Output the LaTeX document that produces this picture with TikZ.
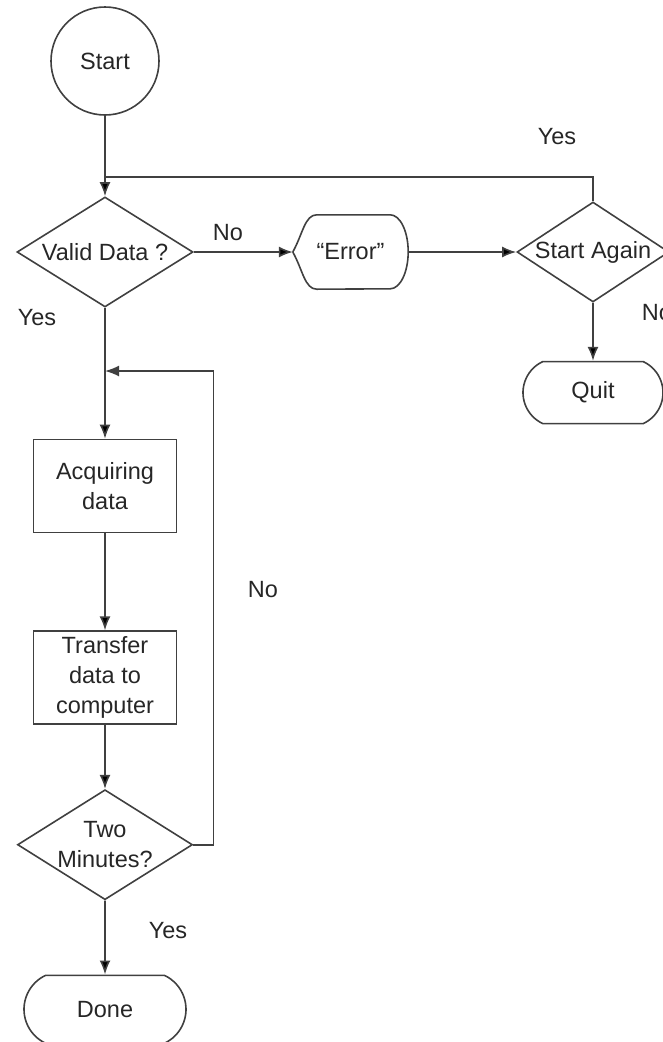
\documentclass[tikz,border=0pt]{standalone}
\usepackage{fontspec}
\setmainfont{Liberation Sans}
\usetikzlibrary{positioning,arrows.meta}
\usetikzlibrary{shapes.geometric,shapes.misc}
\tikzset{
    x=1pt, y=-1pt, % pixel units, y runs downwards
    >={Latex[length=14pt,width=11pt]}, % filled arrow heads
    every node/.style={font=\fontsize{23.5}{30}\selectfont, text=black!85},
    line/.style={draw=black!75, line width=1.6pt},
    terminal/.style={line, circle, minimum size=108pt, inner sep=0pt},
    decision/.style={line, diamond, aspect=1.6, inner sep=-6pt, align=center},
    process/.style={line, rectangle, minimum width=143pt, minimum height=93pt, inner sep=2pt, align=center},
    ending/.style={line, rounded rectangle, rounded rectangle arc length=130, inner sep=0pt},
}

\begin{document}
\begin{tikzpicture}
  \useasboundingbox (0,0) rectangle (663,1042);

  % main column
  \node[terminal] (start) at (105,61) {Start};
  \node[decision, minimum width=176pt, minimum height=110pt] (valid) at (105,252) {Valid Data ?};
  \node[process] (acq) at (105,486) {Acquiring\\data};
  \node[process, below=97pt of acq] (transfer) {Transfer\\data to\\computer};
  \node[decision, minimum width=175pt, minimum height=110pt, below=64pt of transfer] (twomin) {Two\\Minutes?};
  \node[ending, minimum width=162pt, minimum height=68pt, below=74pt of twomin] (done) {Done};

  % error branch
  \node[minimum width=115pt, minimum height=74pt, inner sep=0pt] (err) at (350.5,252) {“Error”};
  \draw[line] (err.west) .. controls +(10,-18) and +(-12,0) .. ([xshift=24pt]err.north west)
    -- ([xshift=-18pt]err.north east)
    arc[start angle=90, end angle=-90, x radius=18pt, y radius=37pt]
    -- ([xshift=24pt]err.south west)
    .. controls +(-12,0) and +(10,18) .. (err.west);
  \node[decision, minimum width=152pt, minimum height=100pt] (again) at (593,252) {Start Again};
  \node[ending, minimum width=140pt, minimum height=62pt, below=58pt of again] (quit) {Quit};

  \coordinate (rejoin) at (105,177);
  \coordinate (loop) at (105,371);

  \path[line, ->]
    (start) edge (valid)
    (valid) edge (err)
    (err) edge (again)
    (again) edge (quit)
    (valid) edge (acq)
    (acq) edge (transfer)
    (transfer) edge (twomin)
    (twomin) edge (done);
  \draw[line] (again.north) |- (rejoin);
  \draw[line, ->] (twomin.east) -- ++(20,0) |- (loop);

  % labels
  \node (no_valid) at (228,233) {No};
  \node (yes_valid) at (37,318) {Yes};
  \node (yes_again) at (557,137) {Yes};
  \node (no_again) at (657,313) {No};
  \node (no_two) at (263,590) {No};
  \node (yes_two) at (168,931) {Yes};
\end{tikzpicture}
\end{document}
